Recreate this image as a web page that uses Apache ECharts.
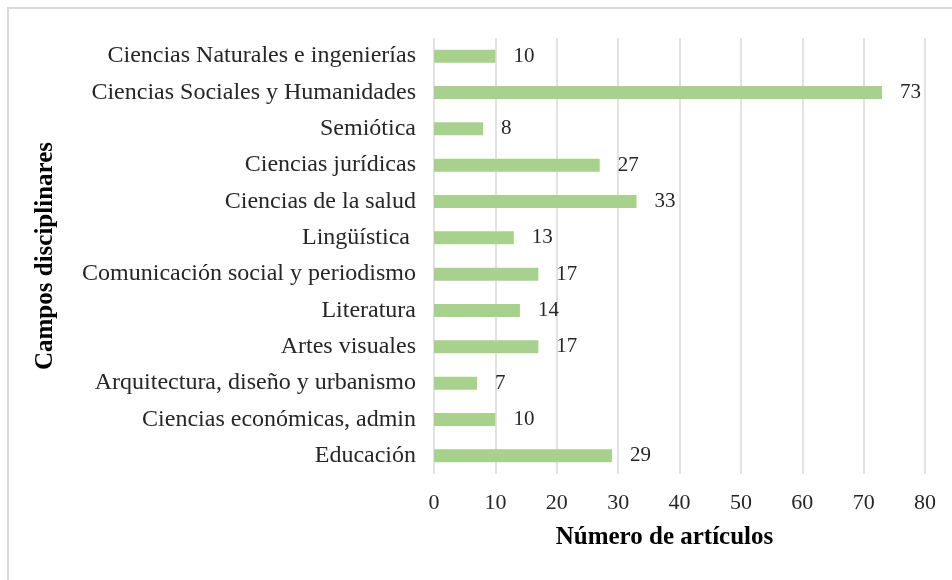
<!DOCTYPE html>
<html>
<head>
<meta charset="utf-8">
<script src="https://cdn.jsdelivr.net/npm/echarts@6/dist/echarts.min.js"></script>
<style>
  html, body { margin: 0; padding: 0; background: #fff; }
  #chart { width: 952px; height: 580px; }
</style>
</head>
<body>
<div id="chart"></div>
<script>
// campos, de arriba hacia abajo
var campos = [
    'Ciencias Naturales e ingenierías',
    'Ciencias Sociales y Humanidades',
    'Semiótica',
    'Ciencias jurídicas',
    'Ciencias de la salud',
    'Lingüística ',
    'Comunicación social y periodismo',
    'Literatura',
    'Artes visuales',
    'Arquitectura, diseño y urbanismo',
    'Ciencias económicas, admin',
    'Educación'
];
var articulos = [10, 73, 8, 27, 33, 13, 17, 14, 17, 7, 10, 29];
var ejeX = [0, 10, 20, 30, 40, 50, 60, 70, 80];

var fuente = '"Liberation Serif", "Times New Roman", serif';

var chart = echarts.init(document.getElementById('chart'));

var option = {
    animation: false,
    textStyle: { fontFamily: fuente },
    graphic: [{
        type: 'rect',
        shape: { x: 8, y: 8, width: 1000, height: 700 },
        style: { fill: 'none', stroke: '#d9d9d9', lineWidth: 2 }
    }],
    grid: { left: 434, right: 27, top: 38, bottom: 106 },
    xAxis: {
        type: 'value',
        min: ejeX[0],
        max: ejeX[ejeX.length - 1],
        interval: 10,
        name: 'Número de artículos',
        nameLocation: 'middle',
        nameGap: 51,
        nameTextStyle: { fontFamily: fuente, fontSize: 25, fontWeight: 'bold', color: '#000', padding: [0, 30, 0, 0] },
        axisLine: { show: false },
        axisTick: { show: false },
        axisLabel: { fontFamily: fuente, fontSize: 22, color: '#262626', margin: 18 },
        splitLine: { lineStyle: { color: '#d9d9d9', width: 1.5 } }
    },
    yAxis: {
        type: 'category',
        data: campos,
        inverse: true,
        name: 'Campos disciplinares',
        nameLocation: 'middle',
        nameRotate: 90,
        nameGap: 376,
        nameTextStyle: { fontFamily: fuente, fontSize: 25, fontWeight: 'bold', color: '#000' },
        axisLine: { show: false },
        axisTick: { show: false },
        axisLabel: { fontFamily: fuente, fontSize: 24, color: '#262626', margin: 18 }
    },
    series: [{
        name: 'Número de artículos',
        type: 'bar',
        data: articulos,
        barWidth: 13,
        itemStyle: { color: '#a9d18e' },
        label: {
            show: true,
            position: 'right',
            distance: 18,
            fontFamily: fuente,
            fontSize: 21,
            color: '#262626'
        }
    }]
};

chart.setOption(option);
</script>
</body>
</html>
